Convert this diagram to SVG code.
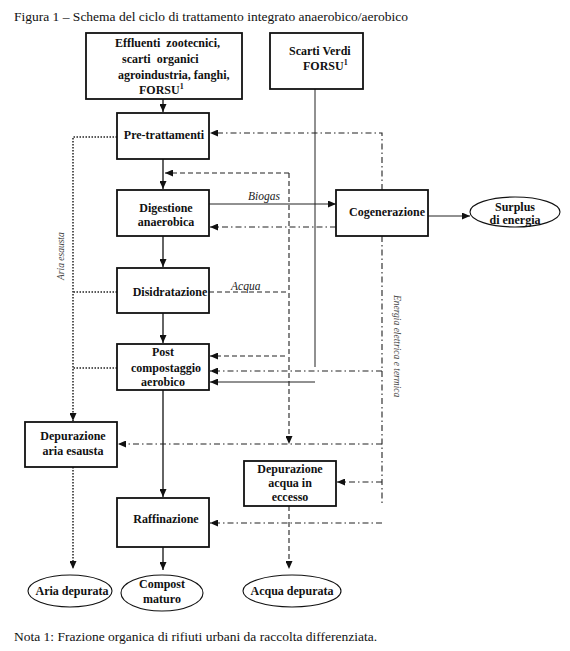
<svg xmlns="http://www.w3.org/2000/svg" width="570" height="651" viewBox="0 0 570 651">
<style>
  .box { fill: #fff; stroke: #111; stroke-width: 1.8; }
  .ell { fill: #fff; stroke: #111; stroke-width: 1.1; }
  .t { font-family: "Liberation Serif", "Times New Roman", serif; font-weight: bold; font-size: 12px; fill: #111; }
  .cap { font-family: "Liberation Serif", "Times New Roman", serif; font-size: 13.5px; fill: #111; }
  .lab { font-family: "Liberation Serif", "Times New Roman", serif; font-style: italic; font-size: 11.5px; fill: #222; }
  .vlab { font-family: "Liberation Serif", "Times New Roman", serif; font-style: italic; font-size: 9.5px; fill: #444; }
  .solid { fill: none; stroke: #111; stroke-width: 1.3; }
  .thin { fill: none; stroke: #222; stroke-width: 1; }
  .dash { fill: none; stroke: #222; stroke-width: 1.1; stroke-dasharray: 5 3; }
  .dd { fill: none; stroke: #222; stroke-width: 1.1; stroke-dasharray: 6 3 1.5 3; }
  .dot { fill: none; stroke: #222; stroke-width: 1.5; stroke-dasharray: 1.5 1.5; }
</style>
<defs>
  <marker id="ah" markerUnits="userSpaceOnUse" markerWidth="8" markerHeight="7" refX="8" refY="3.5" orient="auto">
    <path d="M0,0 L8,3.5 L0,7 z" fill="#111"/>
  </marker>
</defs>
<rect width="570" height="651" fill="#fff"/>
<text class="cap" x="14" y="21">Figura 1 – Schema del ciclo di trattamento integrato anaerobico/aerobico</text>

<g id="connectors">
  <path class="solid" d="M163,99 V112" marker-end="url(#ah)"/>
  <path class="solid" d="M163,159 V189" marker-end="url(#ah)"/>
  <path class="solid" d="M163,236 V267" marker-end="url(#ah)"/>
  <path class="solid" d="M163,313 V343" marker-end="url(#ah)"/>
  <path class="solid" d="M163,390 V497" marker-end="url(#ah)"/>
  <path class="solid" d="M163,547 V570" marker-end="url(#ah)"/>
  <path class="thin" d="M209,204 H336" marker-end="url(#ah)"/>
  <path class="thin" d="M428,216 H470" marker-end="url(#ah)"/>
  <path class="dd" d="M382,190 V133 H210" marker-end="url(#ah)"/>
  <path class="dd" d="M336,227 H210" marker-end="url(#ah)"/>
  <path class="dd" d="M382,236 V506"/>
  <path class="dd" d="M382,371 H210" marker-end="url(#ah)"/>
  <path class="dd" d="M382,444 H118" marker-end="url(#ah)"/>
  <path class="dd" d="M382,482 H337" marker-end="url(#ah)"/>
  <path class="dd" d="M382,523 H210" marker-end="url(#ah)"/>
  <path class="thin" d="M315,89 V367"/>
  <path class="thin" d="M315,382 H210" marker-end="url(#ah)"/>
  <path class="dash" d="M209,292 H289"/>
  <path class="dash" d="M289,173 V444" marker-end="url(#ah)"/>
  <path class="dash" d="M289,173 H165" marker-end="url(#ah)"/>
  <path class="dash" d="M285,356 H210" marker-end="url(#ah)"/>
  <path class="dash" d="M289,506 V569" marker-end="url(#ah)"/>
  <path class="dot" d="M117,137 H73 V421" marker-end="url(#ah)"/>
  <path class="dot" d="M117,292 H73"/>
  <path class="dot" d="M117,368 H73"/>
  <path class="dot" d="M73,467 V569" marker-end="url(#ah)"/>
  <text class="lab" x="248" y="200">Biogas</text>
  <text class="lab" x="231" y="290">Acqua</text>
  <text class="vlab" transform="translate(64,280) rotate(-90)">Aria esausta</text>
  <text class="vlab" transform="translate(394,295) rotate(90)">Energia elettrica e termica</text>
</g>

<g id="effluenti">
  <rect class="box" x="86" y="33" width="156" height="66"/>
  <text class="t" x="115" y="47" style="white-space:pre">Effluenti  zootecnici,</text>
  <text class="t" x="122" y="63" style="white-space:pre">scarti  organici</text>
  <text class="t" x="118" y="79">agroindustria, fanghi,</text>
  <text class="t" x="139" y="94">FORSU<tspan font-size="8" dy="-5">1</tspan></text>
</g>
<g id="scarti-verdi">
  <rect class="box" x="270" y="33" width="93" height="56"/>
  <text class="t" x="289" y="55">Scarti Verdi</text>
  <text class="t" x="303" y="70">FORSU<tspan font-size="8" dy="-5">1</tspan></text>
</g>
<g id="pretrattamenti">
  <rect class="box" x="117" y="113" width="92" height="46"/>
  <text class="t" x="164" y="139" text-anchor="middle">Pre-trattamenti</text>
</g>
<g id="digestione">
  <rect class="box" x="117" y="190" width="92" height="46"/>
  <text class="t" x="166" y="212" text-anchor="middle">Digestione</text>
  <text class="t" x="166" y="226" text-anchor="middle">anaerobica</text>
</g>
<g id="disidratazione">
  <rect class="box" x="117" y="268" width="92" height="45"/>
  <text class="t" x="170" y="296" text-anchor="middle">Disidratazione</text>
</g>
<g id="post-compostaggio">
  <rect class="box" x="117" y="344" width="92" height="46"/>
  <text class="t" x="163" y="356" text-anchor="middle">Post</text>
  <text class="t" x="166" y="372" text-anchor="middle">compostaggio</text>
  <text class="t" x="163" y="386" text-anchor="middle">aerobico</text>
</g>
<g id="cogenerazione">
  <rect class="box" x="336" y="190" width="92" height="46"/>
  <text class="t" x="387" y="216" text-anchor="middle">Cogenerazione</text>
</g>
<g id="surplus">
  <ellipse class="ell" cx="515" cy="212" rx="45" ry="15"/>
  <text class="t" x="515" y="211" text-anchor="middle">Surplus</text>
  <text class="t" x="515" y="224" text-anchor="middle">di energia</text>
</g>
<g id="depurazione-aria">
  <rect class="box" x="25" y="422" width="92" height="45"/>
  <text class="t" x="73" y="440" text-anchor="middle">Depurazione</text>
  <text class="t" x="73" y="455" text-anchor="middle">aria esausta</text>
</g>
<g id="depurazione-acqua">
  <rect class="box" x="244" y="461" width="92" height="45"/>
  <text class="t" x="290" y="473" text-anchor="middle">Depurazione</text>
  <text class="t" x="290" y="487" text-anchor="middle">acqua in</text>
  <text class="t" x="290" y="501" text-anchor="middle">eccesso</text>
</g>
<g id="raffinazione">
  <rect class="box" x="117" y="498" width="92" height="49"/>
  <text class="t" x="166" y="523" text-anchor="middle">Raffinazione</text>
</g>
<g id="aria-depurata">
  <ellipse class="ell" cx="70" cy="591" rx="42" ry="16"/>
  <text class="t" x="72" y="595" text-anchor="middle">Aria depurata</text>
</g>
<g id="compost-maturo">
  <ellipse class="ell" cx="162" cy="593" rx="41" ry="18"/>
  <text class="t" x="162" y="588" text-anchor="middle">Compost</text>
  <text class="t" x="162" y="603" text-anchor="middle">maturo</text>
</g>
<g id="acqua-depurata">
  <ellipse class="ell" cx="292" cy="591" rx="49" ry="16"/>
  <text class="t" x="292" y="595" text-anchor="middle">Acqua depurata</text>
</g>
<text class="cap" x="14" y="641">Nota 1: Frazione organica di rifiuti urbani da raccolta differenziata.</text>
</svg>
